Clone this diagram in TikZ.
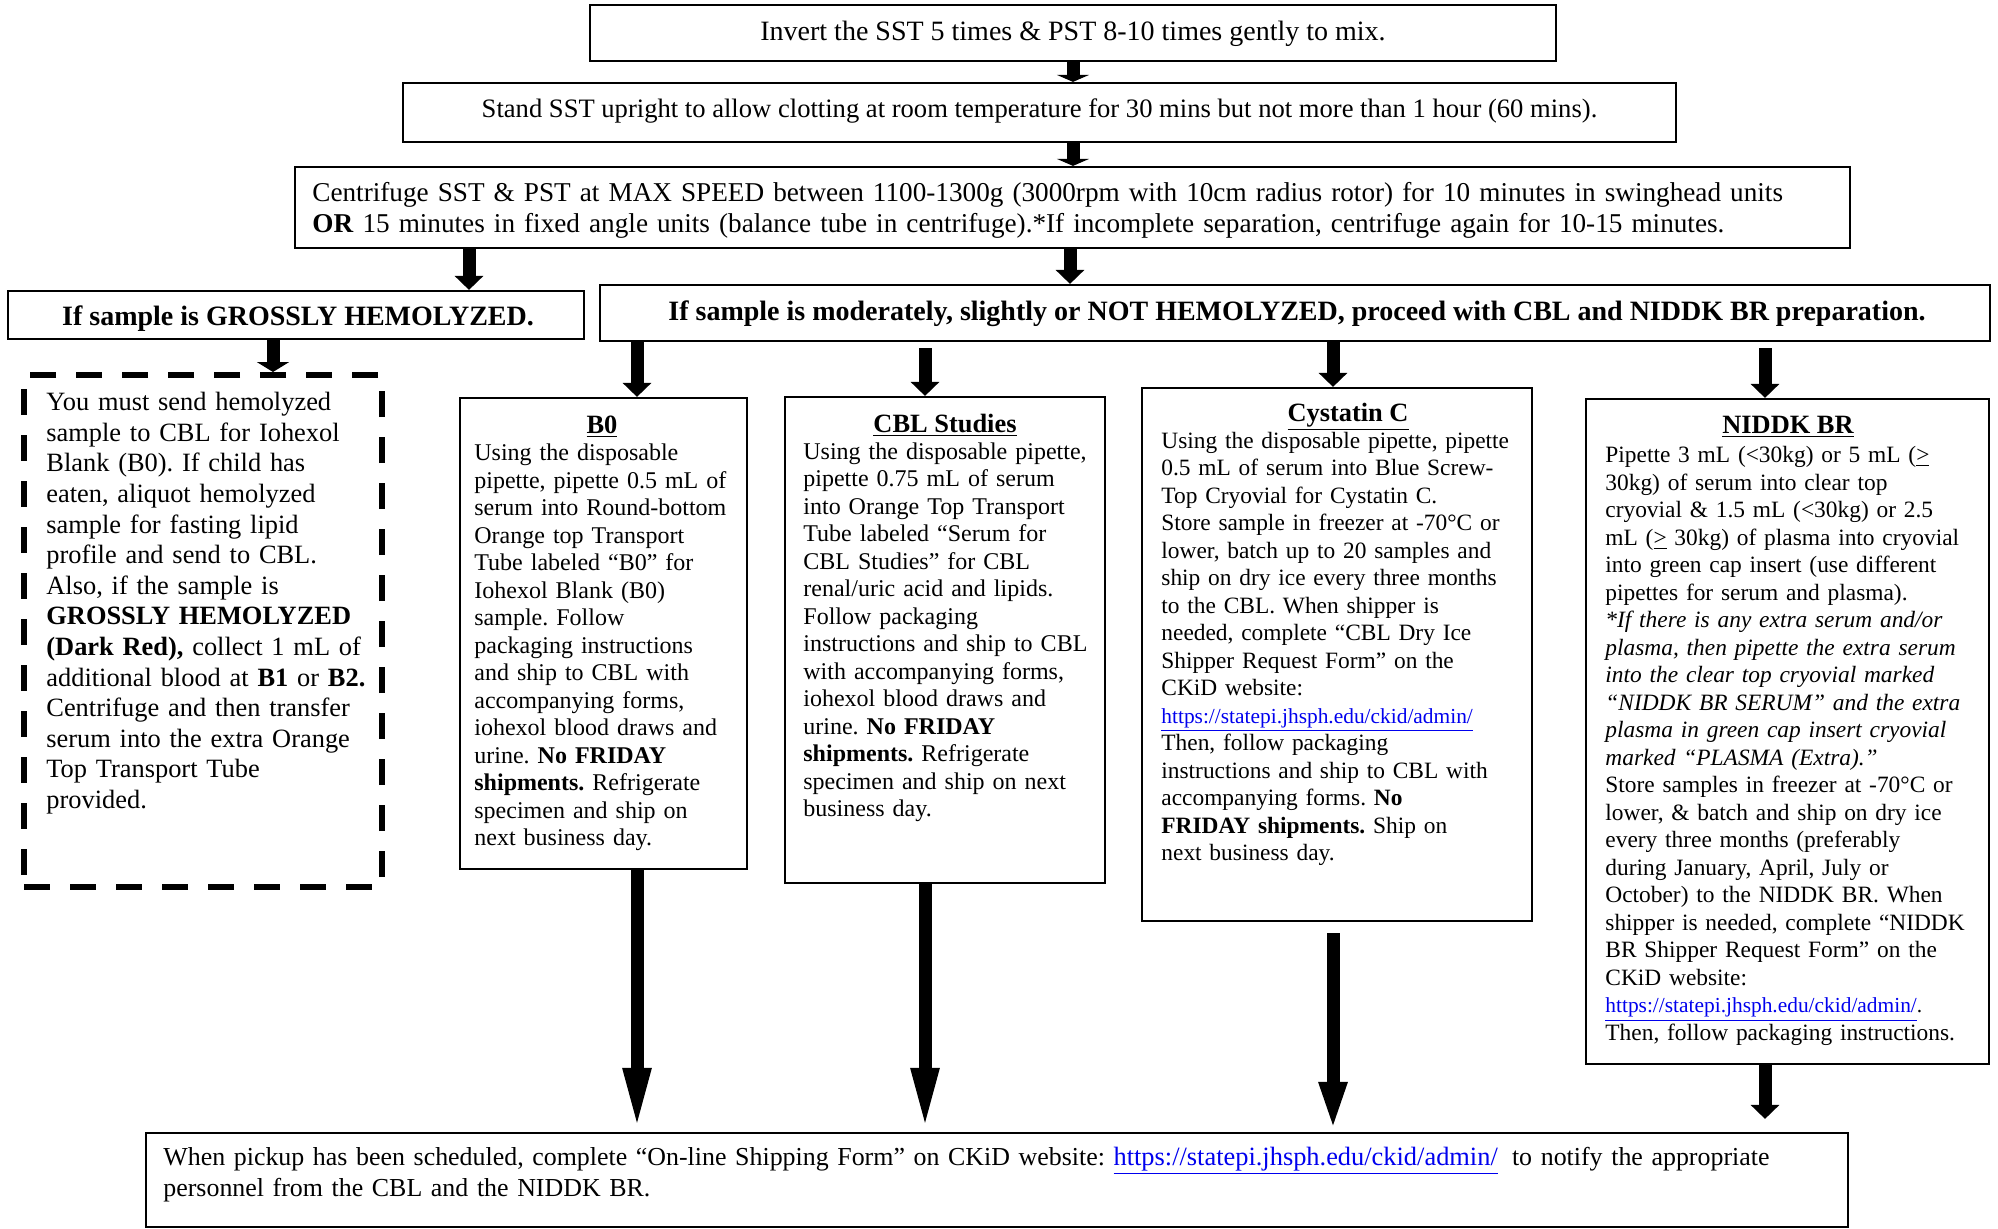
\documentclass[tikz,border=0pt]{standalone}
\usepackage{fontspec}
\setmainfont{Liberation Serif}
\usetikzlibrary{arrows.meta,fit,calc}
\newcommand\fs[2]{\fontsize{#1pt}{#2pt}\selectfont}
\definecolor{linkblue}{RGB}{0,0,238}
\newcommand\lnk[1]{\textcolor{linkblue}{\underline{#1}}}
\frenchspacing
\begin{document}
\begin{tikzpicture}[x=0.5pt,y=-0.5pt,
  box/.style={draw, line width=1.1pt, inner sep=0pt},
  dbox/.style={draw, line width=3pt, dash pattern=on 13pt off 10pt, inner sep=0pt},
  body/.style={anchor=base west, inner sep=0pt, align=left, font=\fs{12}{13.75}},
  ctext/.style={anchor=base, inner sep=0pt, font=\fs{14}{16}},
  head/.style={anchor=base, inner sep=0pt, font=\fs{13.2}{15}\bfseries},
  arrS/.style={line width=6.5pt, -{Triangle[length=7pt,width=14pt]}},
  arrF/.style={line width=6.5pt, -{Triangle[length=3.5pt,width=16pt]}},
  arrD/.style={line width=6.5pt, -{Triangle[length=5pt,width=16pt]}},
  arrL/.style={line width=6.5pt, -{Triangle[length=32pt,width=12.5pt]}},
  arrL2/.style={line width=6.5pt, -{Triangle[length=25pt,width=12.5pt]}}]
\fill[white] (0,0) rectangle (1998,1228);
\useasboundingbox (0,0) rectangle (1998,1228);

% boxes
\node[box, fit={(590,5)(1556,61)}] (s1) {};
\node[box, fit={(403,83)(1676,142)}] (s2) {};
\node[box, fit={(295,167)(1850,248)}] (s3) {};
\node[box, fit={(8,291)(584,339)}] (g) {};
\node[box, fit={(600,285)(1990,341)}] (m) {};
\node[dbox, fit={(24,375)(382,887)}] (hd) {};
\node[box, fit={(460,398)(747,869)}] (b0) {};
\node[box, fit={(785,397)(1105,883)}] (cbl) {};
\node[box, fit={(1142,388)(1532,921)}] (cy) {};
\node[box, fit={(1586,399)(1989,1064)}] (nb) {};
\node[box, fit={(146,1133)(1848,1227)}] (bot) {};

% texts
\node[ctext] (t1) at (1073,40) {Invert the SST 5 times \& PST 8-10 times gently to mix.};
\node[ctext, font=\fs{13.3}{16}] (t2) at (1039.5,117) {Stand SST upright to allow clotting at room temperature for 30 mins but not more than 1 hour (60 mins).};
\node[body, font=\fs{13.6}{15.5}, text width=768pt] (t3) at (312,201.7) {Centrifuge SST \& PST at MAX SPEED between 1100-1300g (3000rpm with 10cm radius rotor) for 10 minutes in swinghead units\\
\textbf{OR} 15 minutes in fixed angle units (balance tube in centrifuge).*If incomplete separation, centrifuge again for 10-15 minutes.};
\node[ctext, font=\fs{14}{16}\bfseries] (tg) at (298,325) {If sample is GROSSLY HEMOLYZED.};
\node[ctext, font=\fs{14}{16}\bfseries] (tm) at (1297,320) {If sample is moderately, slightly or NOT HEMOLYZED, proceed with CBL and NIDDK BR preparation.};

\node[body, font=\fs{13.2}{15.3}, text width=166pt] (thd) at (46,410.7) {You must send hemolyzed\\
sample to CBL for Iohexol\\
Blank (B0). If child has\\
eaten, aliquot hemolyzed\\
sample for fasting lipid\\
profile and send to CBL.\\
Also, if the sample is\\
\textbf{GROSSLY HEMOLYZED}\\
\textbf{(Dark Red),} collect 1 mL of\\
additional blood at \textbf{B1} or \textbf{B2.}\\
Centrifuge and then transfer\\
serum into the extra Orange\\
Top Transport Tube\\
provided.};

\node[head] (hb0) at (602,433) {\underline{B0}};
\node[head] (hcbl) at (945,432.5) {\underline{CBL Studies}};
\node[head] (hcy) at (1348,421) {\underline{Cystatin C}};
\node[head] (hnb) at (1788,433.6) {\underline{NIDDK BR}};

\node[body, text width=135pt] (tb0) at (474,460.5) {Using the disposable\\
pipette, pipette 0.5 mL of\\
serum into Round-bottom\\
Orange top Transport\\
Tube labeled “B0” for\\
Iohexol Blank (B0)\\
sample. Follow\\
packaging instructions\\
and ship to CBL with\\
accompanying forms,\\
iohexol blood draws and\\
urine. \textbf{No FRIDAY}\\
\textbf{shipments.} Refrigerate\\
specimen and ship on\\
next business day.};

\node[body, text width=150pt] (tcbl) at (803,459) {Using the disposable pipette,\\
pipette 0.75 mL of serum\\
into Orange Top Transport\\
Tube labeled “Serum for\\
CBL Studies” for CBL\\
renal/uric acid and lipids.\\
Follow packaging\\
instructions and ship to CBL\\
with accompanying forms,\\
iohexol blood draws and\\
urine. \textbf{No FRIDAY}\\
\textbf{shipments.} Refrigerate\\
specimen and ship on next\\
business day.};

\node[body, font=\fs{11.7}{13.75}, text width=185pt] (tcy) at (1161,448) {Using the disposable pipette, pipette\\
0.5 mL of serum into Blue Screw-\\
Top Cryovial for Cystatin C.\\
Store sample in freezer at -70°C or\\
lower, batch up to 20 samples and\\
ship on dry ice every three months\\
to the CBL. When shipper is\\
needed, complete “CBL Dry Ice\\
Shipper Request Form” on the\\
CKiD website:\\
{\fs{10.7}{13.75}\lnk{https://statepi.jhsph.edu/ckid/admin/}}\\
Then, follow packaging\\
instructions and ship to CBL with\\
accompanying forms. \textbf{No}\\
\textbf{FRIDAY shipments.} Ship on\\
next business day.};

\node[body, font=\fs{11.7}{13.75}, text width=191pt] (tnb) at (1605,462.6) {Pipette 3 mL (<30kg) or 5 mL (\underline{>}\\
30kg) of serum into clear top\\
cryovial \& 1.5 mL (<30kg) or 2.5\\
mL (\underline{>} 30kg) of plasma into cryovial\\
into green cap insert (use different\\
pipettes for serum and plasma).\\
\textit{*If there is any extra serum and/or}\\
\textit{plasma, then pipette the extra serum}\\
\textit{into the clear top cryovial marked}\\
\textit{“NIDDK BR SERUM” and the extra}\\
\textit{plasma in green cap insert cryovial}\\
\textit{marked “PLASMA (Extra).”}\\
Store samples in freezer at -70°C or\\
lower, \& batch and ship on dry ice\\
every three months (preferably\\
during January, April, July or\\
October) to the NIDDK BR. When\\
shipper is needed, complete “NIDDK\\
BR Shipper Request Form” on the\\
CKiD website:\\
{\fs{10.7}{13.75}\lnk{https://statepi.jhsph.edu/ckid/admin/}.}\\
Then, follow packaging instructions.};

\node[body, font=\fs{12.95}{15.5}, text width=841pt] (tbot) at (163,1165) {When pickup has been scheduled, complete “On-line Shipping Form” on CKiD website: {\fs{13.2}{15.5}\lnk{https://statepi.jhsph.edu/ckid/admin/}}\hspace{0.55em}to notify the appropriate\\
personnel from the CBL and the NIDDK BR.};

% arrow x positions
\coordinate (c1) at (1073,0);
\coordinate (cG) at (469,0);
\coordinate (cM) at (1070,0);
\coordinate (cD) at (273,0);
\coordinate (cB) at (637,0);
\coordinate (cC) at (925,0);
\coordinate (cY) at (1333,0);
\coordinate (cN) at (1765,0);

% connectors
\draw[arrF] (s1.south -| c1) -- (s2.north -| c1);
\draw[arrF] (s2.south -| c1) -- (s3.north -| c1);
\draw[arrS] (s3.south -| cG) -- (g.north -| cG);
\draw[arrS] (s3.south -| cM) -- (m.north -| cM);
\draw[arrD] (g.south -| cD) -- (hd.north -| cD);
\draw[arrS] (m.south -| cB) -- (b0.north -| cB);
\draw[arrS] ($(m.south -| cC)+(0,6)$) -- (cbl.north -| cC);
\draw[arrS] (m.south -| cY) -- (cy.north -| cY);
\draw[arrS] ($(m.south -| cN)+(0,6)$) -- (nb.north -| cN);
\draw[arrL] (b0.south -| cB) -- (bot.north -| cB);
\draw[arrL] (cbl.south -| cC) -- (bot.north -| cC);
\draw[arrL2] ($(cy.south -| cY)+(0,11)$) -- (bot.north -| cY);
\draw[arrS] (nb.south -| cN) -- ($(bot.north -| cN)+(0,-13)$);
\end{tikzpicture}
\end{document}
